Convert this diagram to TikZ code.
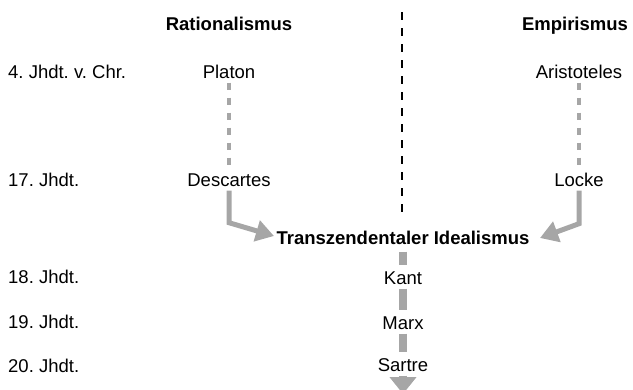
\documentclass[tikz,border=0pt]{standalone}
\usepackage{fontspec}
\setmainfont{Liberation Sans}
\usetikzlibrary{arrows.meta}
\definecolor{arrowgray}{HTML}{A6A6A6}
\frenchspacing
\tikzset{
	phil/.style={font=\fontsize{18.5}{20}\selectfont, text height=18pt, text depth=3pt, inner xsep=0pt, inner ysep=1pt},
	era/.style={phil, anchor=west},
	school/.style={phil, font=\fontsize{18.5}{20}\selectfont\bfseries},
	trail/.style={arrowgray, line width=4pt, dash pattern=on 7pt off 8pt},
	flow/.style={arrowgray, line width=5pt, -{Triangle[length=18pt,width=21pt]}},
	bar/.style={arrowgray, line width=8pt},
}
\begin{document}
\begin{tikzpicture}[x=1pt,y=-1pt]
	\useasboundingbox (0,0) rectangle (633,389);
	%SCHOOLS
	\node[school] (rat) at (229,23) {Rationalismus};
	\node[school] (emp) at (575,23) {Empirismus};
	\coordinate (divtop) at (402,12);
	\coordinate (divbot) at (402,213);
	\draw[line width=2pt, dash pattern=on 8pt off 8pt] (divtop) -- (divbot);
	
	%ERAS
	\node[era] (e4) at (8,71) {4. Jhdt. v. Chr.};
	\node[era] (e17) at (8,179) {17. Jhdt.};
	\node[era] (e18) at (8,276) {18. Jhdt.};
	\node[era] (e19) at (8,321) {19. Jhdt.};
	\node[era] (e20) at (8,365) {20. Jhdt.};
	
	%RATIONALISMUS
	\node[phil] (platon) at (229,71) {Platon};
	\node[phil] (descartes) at (229,179) {Descartes};
	\draw[trail] (platon) -- (descartes);
	
	%EMPIRISMUS
	\node[phil] (aristoteles) at (579,71) {Aristoteles};
	\node[phil] (locke) at (579,179) {Locke};
	\draw[trail] (aristoteles) -- (locke);
	
	%IDEALISMUS
	\node[school] (ti) at (403,237) {Transzendentaler Idealismus};
	\coordinate (ltip) at (274,236);
	\coordinate (rtip) at (540,238);
	\draw[flow] (descartes.south) -- ++(0,32) -- (ltip);
	\draw[flow] (locke.south) -- ++(0,33) -- (rtip);
	
	\node[phil] (kant) at (403,277) {Kant};
	\node[phil] (marx) at (403,322) {Marx};
	\node[phil] (sartre) at (403,364) {Sartre};
	\coordinate (future) at (403,394);
	\draw[bar,shorten <=3pt] (ti) -- (kant);
	\draw[bar] (kant) -- (marx);
	\draw[bar] (marx) -- (sartre);
	\draw[bar,-{Triangle[length=17pt,width=26pt]}] (sartre) -- (future);
\end{tikzpicture}
\end{document}
